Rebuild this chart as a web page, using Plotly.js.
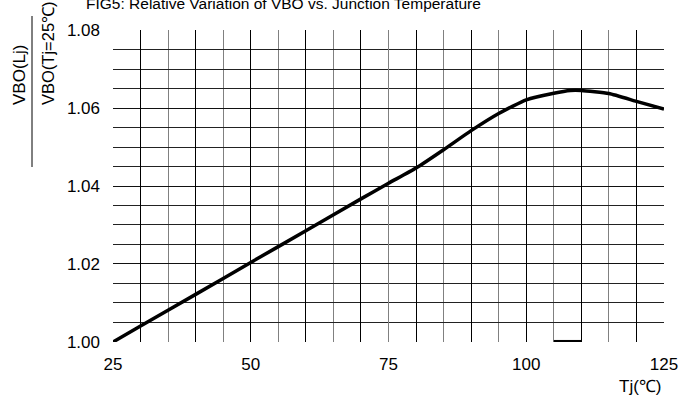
<!DOCTYPE html>
<html>
<head>
<meta charset="utf-8">
<script src="https://cdn.plot.ly/plotly-3.0.1.min.js"></script>
<style>html,body{margin:0;padding:0;background:#fff;}#chart{width:691px;height:399px;}</style>
</head>
<body>
<div id="chart"></div>
<script>
// Data
var tempC = [25, 30, 40, 50, 60, 70, 75, 80, 85, 90, 95, 100, 105, 108, 110, 115, 120, 125];
var ratio = [1.000, 1.0041, 1.0122, 1.0204, 1.0285, 1.0367, 1.0407, 1.0446, 1.0493, 1.0542, 1.0586, 1.0621, 1.0638, 1.0645, 1.0645, 1.0637, 1.0617, 1.0597];
var markX = [105, 110];
var markY = [1.0, 1.0];
var xTickVals = [25, 50, 75, 100, 125];
var xTickText = ['25', '50', '75', '100', '125'];
var yTickVals = [1.00, 1.02, 1.04, 1.06, 1.08];
var yTickText = ['1.00', '1.02', '1.04', '1.06', '1.08'];

var FONT = 'Liberation Sans, Arial, sans-serif';
var L = 113, R = 27, T = 30, B = 57, W = 691, H = 399;
var pw = W - L - R, ph = H - T - B;
function px2x(p) { return (p - L) / pw; }
function py2y(p) { return (H - B - p) / ph; }

var traces = [
  {x: markX, y: markY, xaxis: 'x', yaxis: 'y', mode: 'lines',
   line: {color: '#000', width: 4}, hoverinfo: 'skip', showlegend: false},
  {x: tempC, y: ratio, xaxis: 'x2', yaxis: 'y', mode: 'lines',
   line: {color: '#000', width: 3.5, shape: 'spline', smoothing: 0.5}, showlegend: false}
];

var layout = {
  width: W, height: H,
  margin: {l: L, r: R, t: T, b: B, pad: 0},
  paper_bgcolor: '#fff', plot_bgcolor: '#fff',
  font: {family: FONT, size: 17, color: '#000'},
  title: {text: 'FIG5: Relative Variation of VBO vs. Junction Temperature',
          font: {family: FONT, size: 15.5, color: '#000'},
          x: 86 / W, xanchor: 'left', xref: 'container',
          y: 1 - 4 / H, yanchor: 'middle', yref: 'container'},
  xaxis: {range: [24.999, 125.001], tickvals: xTickVals, ticktext: xTickText,
          showgrid: true, gridcolor: '#808080', gridwidth: 1,
          minor: {tick0: 25, dtick: 5, showgrid: true, gridcolor: '#808080', gridwidth: 1},
          zeroline: false, showline: false, ticks: '', ticklabelstandoff: 10,
          tickfont: {family: FONT, size: 17, color: '#000'}, fixedrange: true},
  xaxis2: {range: [24.999, 125.001], overlaying: 'x', anchor: 'y', side: 'bottom',
           tick0: 30, dtick: 10, showgrid: true, gridcolor: '#000', gridwidth: 1,
           showticklabels: false, ticks: '', zeroline: false, showline: false, fixedrange: true},
  yaxis: {range: [0.99999, 1.08001], tickvals: yTickVals, ticktext: yTickText,
          showgrid: true, gridcolor: '#111', gridwidth: 1,
          minor: {tick0: 1.0, dtick: 0.005, showgrid: true, gridcolor: '#222', gridwidth: 1},
          zeroline: false, showline: false, ticks: '', ticklabelstandoff: 12,
          tickfont: {family: FONT, size: 17, color: '#000'}, fixedrange: true},
  annotations: [
    {text: 'VBO(Lj)', xref: 'paper', yref: 'paper', x: px2x(19), y: py2y(107),
     xanchor: 'center', yanchor: 'bottom', textangle: -90, showarrow: false,
     font: {family: FONT, size: 17, color: '#000'}},
    {text: 'VBO(Tj=25℃)', xref: 'paper', yref: 'paper', x: px2x(48), y: py2y(107),
     xanchor: 'center', yanchor: 'bottom', textangle: -90, showarrow: false,
     font: {family: FONT, size: 16.5, color: '#000'}},
    {text: 'Tj(℃)', xref: 'paper', yref: 'paper', x: px2x(663), y: py2y(386),
     xanchor: 'right', yanchor: 'middle', showarrow: false,
     font: {family: FONT, size: 17, color: '#000'}}
  ],
  shapes: [
    {type: 'line', xref: 'paper', yref: 'paper', x0: px2x(32), x1: px2x(32),
     y0: py2y(16), y1: py2y(167), line: {color: '#000', width: 1}}
  ]
};

Plotly.newPlot('chart', traces, layout, {displayModeBar: false, staticPlot: true});
</script>
</body>
</html>
